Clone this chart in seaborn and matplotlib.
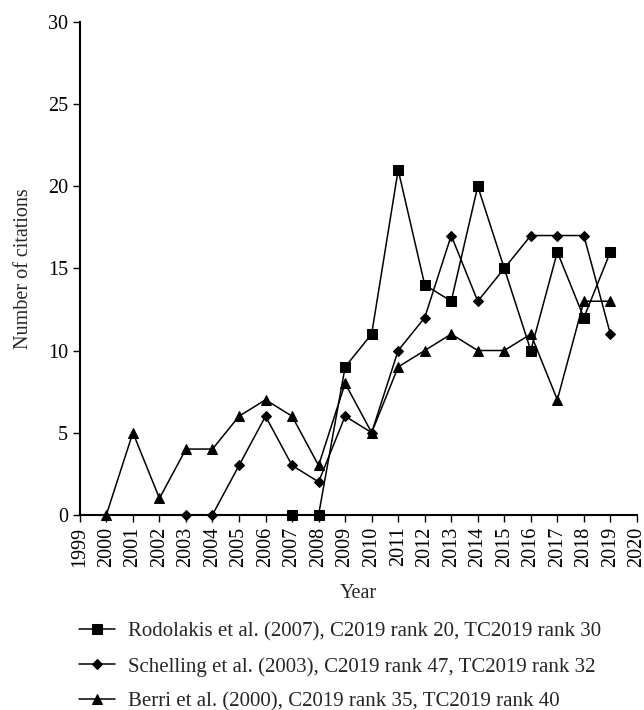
import seaborn as sns
import matplotlib.pyplot as plt
import pandas as pd

# citation counts per year
rodolakis_years = list(range(2007, 2020))
rodolakis_counts = [0, 0, 9, 11, 21, 14, 13, 20, 15, 10, 16, 12, 16]

schelling_years = list(range(2003, 2020))
schelling_counts = [0, 0, 3, 6, 3, 2, 6, 5, 10, 12, 17, 13, 15, 17, 17, 17, 11]

berri_years = list(range(2000, 2020))
berri_counts = [0, 5, 1, 4, 4, 6, 7, 6, 3, 8, 5, 9, 10, 11, 10, 10, 11, 7, 13, 13]

labels = [
    "Rodolakis et al. (2007), C2019 rank 20, TC2019 rank 30",
    "Schelling et al. (2003), C2019 rank 47, TC2019 rank 32",
    "Berri et al. (2000), C2019 rank 35, TC2019 rank 40",
]

sns.set_style("ticks")
plt.rcParams["font.family"] = ["Liberation Serif", "DejaVu Serif"]
plt.rcParams["font.size"] = 14.5

fig = plt.figure(figsize=(6.44, 7.10), dpi=100)
ax = fig.add_axes([0.124, 0.275, 0.865, 0.694])

series = [
    (rodolakis_years, rodolakis_counts, "s", 6.5),
    (schelling_years, schelling_counts, "D", 5),
    (berri_years, berri_counts, "^", 6.5),
]
for (yrs, cnt, mk, ms), lab in zip(series, labels):
    df = pd.DataFrame({"Year": yrs, "Citations": cnt})
    sns.lineplot(data=df, x="Year", y="Citations", ax=ax, color="black",
                 marker=mk, markersize=ms, markeredgecolor="black",
                 linewidth=1.1, label=lab, clip_on=False)

ax.set_xlim(1999, 2020)
ax.set_ylim(0, 30)
ax.set_xticks(range(1999, 2021))
ax.set_xticklabels([str(y) for y in range(1999, 2021)], rotation=90)
ax.set_yticks(range(0, 31, 5))
ax.set_xlabel("Year", labelpad=12)
ax.set_ylabel("Number of citations", labelpad=11)
ax.tick_params(direction="out", length=5, width=1, colors="black", labelsize=14.5)
sns.despine(ax=ax)
for s in ["left", "bottom"]:
    ax.spines[s].set_linewidth(1.5)
    ax.spines[s].set_color("black")

handles, labs = ax.get_legend_handles_labels()
ax.get_legend().remove()
fig.legend(handles, labs, loc="upper left", bbox_to_anchor=(0.109, 0.136),
           frameon=False, handlelength=1.73, handletextpad=0.63,
           labelspacing=0.74, fontsize=15, borderaxespad=0)

fig.savefig("out.png", dpi=100)
